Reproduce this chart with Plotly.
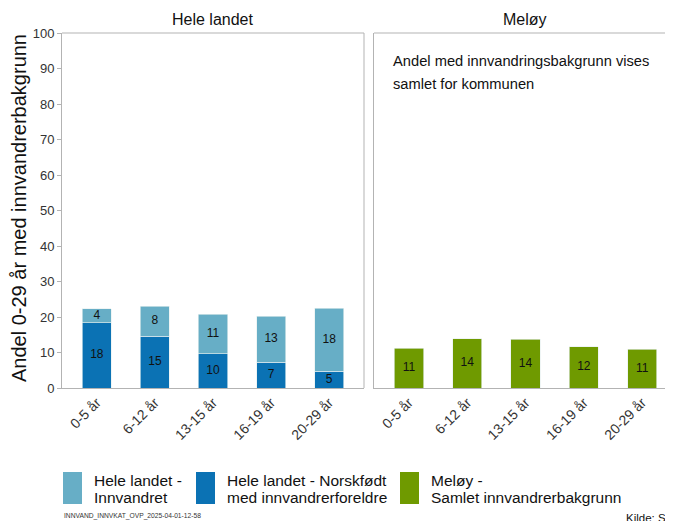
import plotly.graph_objects as go

# ---- data ----
categories = ["0-5 år", "6-12 år", "13-15 år", "16-19 år", "20-29 år"]
norskfodt = [18.4, 14.6, 9.6, 7.2, 4.7]      # Hele landet - Norskfødt med innvandrerforeldre
innvandret = [3.9, 8.4, 11.2, 13.0, 17.8]    # Hele landet - Innvandret
meloy = [11.2, 13.9, 13.7, 11.6, 10.9]       # Meløy - Samlet innvandrerbakgrunn
y_ticks = list(range(0, 101, 10))

C_LIGHT = "#67aec6"
C_DARK = "#0b72b4"
C_GREEN = "#6f9a00"
FONT = "Liberation Sans, Arial, sans-serif"
TXT = "#333333"
AX = "#b3b3b3"

OFF = 8  # page body margin
W, H = 673 - OFF, 521 - OFF
L, T, R, B = 62 - OFF, 33 - OFF, 0, H - (388 - OFF)
PW = W - L - R
PH = H - T - B


def px(x):
    return (x - OFF - L) / PW


def py(y):
    return (T + PH - (y - OFF)) / PH


fig = go.Figure()
edge = dict(color="rgba(230,240,240,0.8)", width=0.8)
xi = list(range(len(categories)))

fig.add_bar(x=xi, y=norskfodt, marker=dict(color=C_DARK, line=edge), width=0.5,
            xaxis="x", yaxis="y", showlegend=False, hoverinfo="y")
fig.add_bar(x=xi, y=innvandret, marker=dict(color=C_LIGHT, line=edge), width=0.5,
            xaxis="x", yaxis="y", showlegend=False, hoverinfo="y")
fig.add_bar(x=xi, y=meloy, marker=dict(color=C_GREEN, line=edge), width=0.5,
            xaxis="x2", yaxis="y2", showlegend=False, hoverinfo="y")

# value labels at segment midpoints
lab_font = dict(size=12, color="#111111", family=FONT)
fig.add_scatter(x=xi, y=[v / 2 for v in norskfodt], mode="text",
                text=[str(int(round(v))) for v in norskfodt], textfont=lab_font,
                xaxis="x", yaxis="y", showlegend=False, hoverinfo="skip")
fig.add_scatter(x=xi, y=[a + b / 2 for a, b in zip(norskfodt, innvandret)], mode="text",
                text=[str(int(round(v))) for v in innvandret], textfont=lab_font,
                xaxis="x", yaxis="y", showlegend=False, hoverinfo="skip")
fig.add_scatter(x=xi, y=[v / 2 for v in meloy], mode="text",
                text=[str(int(round(v))) for v in meloy], textfont=lab_font,
                xaxis="x2", yaxis="y2", showlegend=False, hoverinfo="skip")

xcommon = dict(tickmode="array", tickvals=xi, ticktext=categories, tickangle=-45,
               tickfont=dict(size=14, color=TXT, family=FONT), showline=True,
               linecolor=AX, linewidth=1, ticks="", showgrid=False, zeroline=False,
               fixedrange=True)
ycommon = dict(range=[0, 100], showline=True, linecolor=AX, linewidth=1,
               showgrid=False, zeroline=False, fixedrange=True)

fig.update_layout(
    width=W, height=H,
    margin=dict(l=L, r=R, t=T, b=B, autoexpand=False),
    paper_bgcolor="white", plot_bgcolor="white",
    barmode="stack", bargap=0.5,
    font=dict(family=FONT, color=TXT),
    xaxis=dict(domain=[0, px(364)], anchor="y", range=[-0.6, 4.6], **xcommon),
    yaxis=dict(domain=[0, 1], anchor="x", tickmode="array", tickvals=y_ticks,
               ticks="outside", ticklen=4, tickcolor=AX,
               tickfont=dict(size=13, color=TXT, family=FONT), **ycommon),
    xaxis2=dict(domain=[px(374), 1], anchor="y2", range=[-0.6, 4.53], **xcommon),
    yaxis2=dict(domain=[0, 1], anchor="x2", showticklabels=False, ticks="", **ycommon),
)

shapes = [
    dict(type="line", xref="x domain", yref="y domain", x0=0, x1=1, y0=1, y1=1,
         line=dict(color=AX, width=1)),
    dict(type="line", xref="x domain", yref="y domain", x0=1, x1=1, y0=0, y1=1,
         line=dict(color=AX, width=1)),
    dict(type="line", xref="x2 domain", yref="y2 domain", x0=0, x1=1, y0=1, y1=1,
         line=dict(color=AX, width=1)),
]

dark = "#111111"
annotations = [
    dict(text="Hele landet", xref="x domain", yref="paper", x=0.5, y=py(19),
         showarrow=False, font=dict(size=16, color=dark, family=FONT),
         xanchor="center", yanchor="middle"),
    dict(text="Meløy", xref="paper", yref="paper", x=px(525), y=py(19),
         showarrow=False, font=dict(size=16, color=dark, family=FONT),
         xanchor="center", yanchor="middle"),
    dict(text="Andel 0-29 år med innvandrerbakgrunn", xref="paper", yref="paper",
         x=px(19), y=py(208), textangle=-90, showarrow=False,
         font=dict(size=20, color=dark, family=FONT),
         xanchor="center", yanchor="middle"),
    dict(text="Andel med innvandringsbakgrunn vises", xref="paper", yref="paper",
         x=px(391), y=py(61), showarrow=False,
         font=dict(size=14.7, color=dark, family=FONT),
         xanchor="left", yanchor="middle"),
    dict(text="samlet for kommunen", xref="paper", yref="paper",
         x=px(391), y=py(84), showarrow=False,
         font=dict(size=14.7, color=dark, family=FONT),
         xanchor="left", yanchor="middle"),
    dict(text="INNVAND_INNVKAT_OVP_2025-04-01-12-58", xref="paper", yref="paper",
         x=px(62), y=py(516), showarrow=False,
         font=dict(size=6.7, color="#333333", family=FONT),
         xanchor="left", yanchor="middle"),
    dict(text="Kilde: SSB", xref="paper", yref="paper",
         x=px(624), y=py(517.5), showarrow=False,
         font=dict(size=11.5, color=dark, family=FONT),
         xanchor="left", yanchor="middle"),
]

# custom legend
legend_items = [
    (63, C_LIGHT, ["Hele landet -", "Innvandret"]),
    (196, C_DARK, ["Hele landet - Norskfødt", "med innvandrerforeldre"]),
    (400, C_GREEN, ["Meløy -", "Samlet innvandrerbakgrunn"]),
]
for x0, col, lines in legend_items:
    shapes.append(dict(type="rect", xref="paper", yref="paper",
                       x0=px(x0), x1=px(x0 + 19), y0=py(504), y1=py(472),
                       fillcolor=col, line=dict(width=0)))
    for i, ln in enumerate(lines):
        annotations.append(dict(text=ln, xref="paper", yref="paper",
                                x=px(x0 + 29), y=py(480 + 17 * i), showarrow=False,
                                font=dict(size=15.5, color=dark, family=FONT),
                                xanchor="left", yanchor="middle"))

fig.update_layout(shapes=shapes, annotations=annotations)
fig.write_html("out.html", post_script="document.body.style.overflow='hidden';")
